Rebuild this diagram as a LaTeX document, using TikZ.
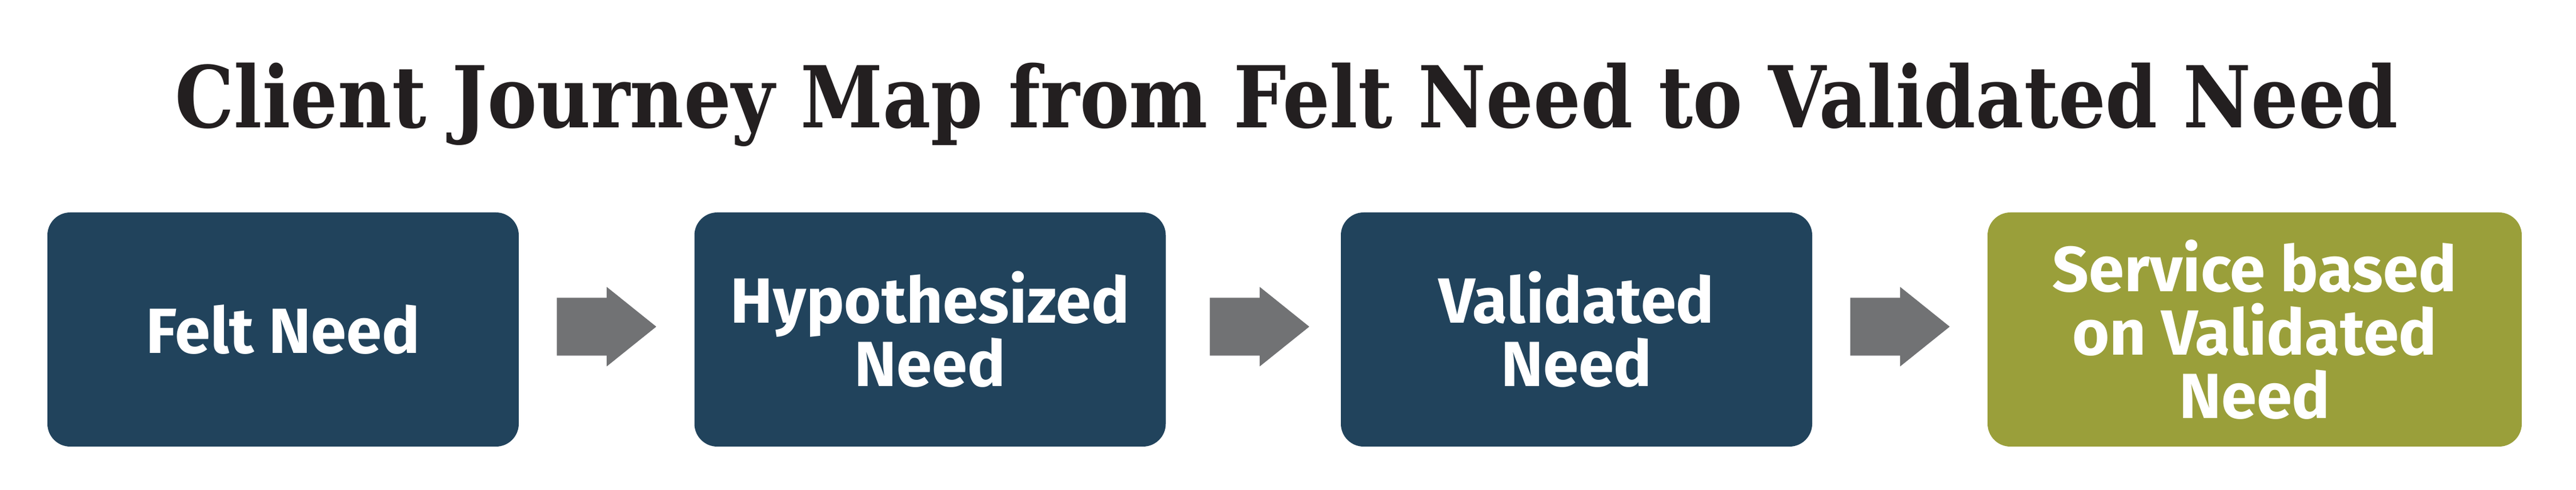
\documentclass[tikz,border=0pt]{standalone}
\usepackage{fontspec}
\usepackage{graphicx}
\usetikzlibrary{shapes.arrows}
\setsansfont{Fira Sans}
\newfontfamily\titlefont{DejaVu Serif}
\definecolor{stageblue}{HTML}{21435C}
\definecolor{stagegreen}{HTML}{9A9F3A}
\definecolor{flowgray}{HTML}{717274}
\definecolor{titleink}{HTML}{231F20}

\begin{document}
\begin{tikzpicture}
\tikzstyle{title} = [anchor=base,text=titleink,font=\titlefont\bfseries\fontsize{42.5}{45}\selectfont];
\tikzstyle{stage}=[rectangle,rounded corners=0.4cm,minimum width=8.25cm,minimum height=4.1cm,inner sep=0pt,fill=stageblue,text=white,align=center,font=\sffamily\bfseries\fontsize{31.8}{31.6}\selectfont];
\tikzstyle{goal}=[stage,fill=stagegreen,minimum width=9.35cm];
\tikzstyle{flow}=[single arrow,anchor=tail,fill=flowgray,inner xsep=0pt,inner ysep=0.5cm,minimum height=1.74cm,single arrow head extend=0.19cm,single arrow tip angle=77.5];
\useasboundingbox (0,0) rectangle (45.09,8.58);
\node [title] (t) at (22.52,6.34) {\resizebox{38.91cm}{\height}{Client Journey Map from Felt Need to Validated Need}};

\node [stage] (v1) at (4.955,2.81) {Felt Need};
\node [stage] (v2) at (16.28,2.81) {Hypothesized\\Need};
\node [stage] (v3) at (27.595,2.81) {Validated\\Need};
\node [goal] (v4) at (39.465,2.81) {Service based\\on Validated\\Need};

\node [flow] (a1) at (9.74,2.86) {};
\node [flow] (a2) at (21.17,2.86) {};
\node [flow] (a3) at (32.38,2.86) {};
\end{tikzpicture}
\end{document}
